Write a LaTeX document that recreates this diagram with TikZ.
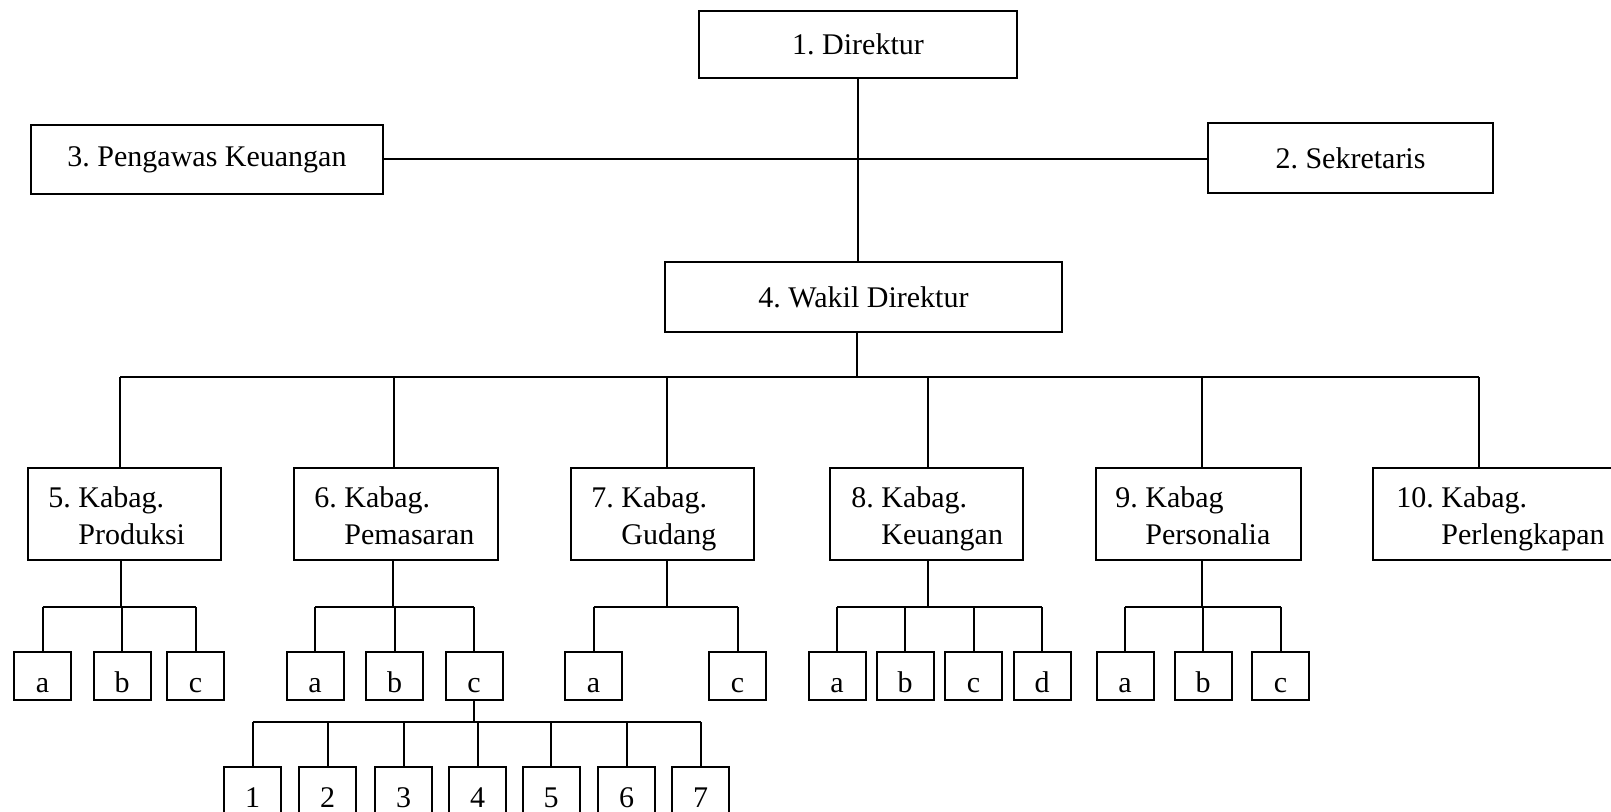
\documentclass[tikz,border=0pt]{standalone}
\usepackage{fontspec}
\setmainfont{Liberation Serif}
\usetikzlibrary{calc}
\frenchspacing
\begin{document}
\begin{tikzpicture}[x=0.5pt,y=-0.5pt,
  every node/.style={font=\fontsize{15}{18}\selectfont\frenchspacing},
  rect/.style n args={2}{draw, line width=1pt, inner sep=0pt, minimum width=#1*0.5pt, minimum height=#2*0.5pt},
  unit/.style={rect={57}{48}, text height=18pt, text depth=2pt},
  lbl/.style={anchor=base west, inner sep=0pt},
  conn/.style={line width=1pt}
]
\useasboundingbox (0,0) rectangle (1611,812);

% top level
\node[rect={318}{67}] (dir) at (858,44.5) {1. Direktur};
\node[rect={352}{69}] (peng) at (207,159.5) {3. Pengawas Keuangan};
\node[rect={285}{70}] (sek) at (1350.5,158) {2. Sekretaris};
\node[rect={397}{70}] (wak) at (863.5,297) {4. Wakil Direktur};

\draw[conn] (dir.south) -- (dir.south |- wak.north);
\draw[conn] (peng.east) -- (peng.east -| sek.west);

% departments
\node[rect={193}{92}] (d5) at (124.5,514) {};
\node[rect={204}{92}] (d6) at (396,514) {};
\node[rect={183}{92}] (d7) at (662.5,514) {};
\node[rect={193}{92}] (d8) at (926.5,514) {};
\node[rect={205}{92}] (d9) at (1198.5,514) {};
\node[rect={247}{92}] (d10) at (1496.5,514) {};

\node[lbl] (d5a) at ($(d5.north west)+(21,40)$) {5. Kabag.};
\node[lbl] (d5b) at ($(d5.north west)+(21,77)$) {\phantom{5. }Produksi};
\node[lbl] (d6a) at ($(d6.north west)+(21,40)$) {6. Kabag.};
\node[lbl] (d6b) at ($(d6.north west)+(21,77)$) {\phantom{6. }Pemasaran};
\node[lbl] (d7a) at ($(d7.north west)+(21,40)$) {7. Kabag.};
\node[lbl] (d7b) at ($(d7.north west)+(21,77)$) {\phantom{7. }Gudang};
\node[lbl] (d8a) at ($(d8.north west)+(22,40)$) {8. Kabag.};
\node[lbl] (d8b) at ($(d8.north west)+(22,77)$) {\phantom{8. }Keuangan};
\node[lbl] (d9a) at ($(d9.north west)+(20,40)$) {9. Kabag};
\node[lbl] (d9b) at ($(d9.north west)+(20,77)$) {\phantom{9. }Personalia};
\node[lbl] (d10a) at ($(d10.north west)+(24,40)$) {10. Kabag.};
\node[lbl] (d10b) at ($(d10.north west)+(24,77)$) {\phantom{10. }Perlengkapan};

% department bus
\coordinate (bus) at (857,377);
\coordinate (b5) at (120,377);
\coordinate (b6) at (394,377);
\coordinate (b7) at (667,377);
\coordinate (b8) at (928,377);
\coordinate (b9) at (1202,377);
\coordinate (b10) at (1479,377);
\draw[conn] (wak.south -| bus) -- (bus);
\draw[conn] (b5) -- (b10);
\foreach \i in {5,...,10} \draw[conn] (b\i) -- (b\i |- d\i.north);

% units
\node[unit] (c5a) at (42.5,676) {a};
\node[unit] (c5b) at (122,676) {b};
\node[unit] (c5c) at (195.5,676) {c};
\node[unit] (c6a) at (315,676) {a};
\node[unit] (c6b) at (394.5,676) {b};
\node[unit] (c6c) at (474,676) {c};
\node[unit] (c7a) at (593.5,676) {a};
\node[unit] (c7c) at (737.5,676) {c};
\node[unit] (c8a) at (837,676) {a};
\node[unit] (c8b) at (905,676) {b};
\node[unit] (c8c) at (973.5,676) {c};
\node[unit] (c8d) at (1042,676) {d};
\node[unit] (c9a) at (1125,676) {a};
\node[unit] (c9b) at (1203,676) {b};
\node[unit] (c9c) at (1280.5,676) {c};

\coordinate (s5) at (121,607);
\coordinate (s6) at (393,607);
\coordinate (s7) at (667,607);
\coordinate (s8) at (928,607);
\coordinate (s9) at (1202,607);

\draw[conn] (d5.south -| s5) -- (s5);
\draw[conn] (c5a.north |- s5) -- (c5c.north |- s5);
\foreach \c in {c5a,c5b,c5c} \draw[conn] (\c.north |- s5) -- (\c.north);

\draw[conn] (d6.south -| s6) -- (s6);
\draw[conn] (c6a.north |- s6) -- (c6c.north |- s6);
\foreach \c in {c6a,c6b,c6c} \draw[conn] (\c.north |- s6) -- (\c.north);

\draw[conn] (d7.south -| s7) -- (s7);
\draw[conn] (c7a.north |- s7) -- (c7c.north |- s7);
\foreach \c in {c7a,c7c} \draw[conn] (\c.north |- s7) -- (\c.north);

\draw[conn] (d8.south -| s8) -- (s8);
\draw[conn] (c8a.north |- s8) -- (c8d.north |- s8);
\foreach \c in {c8a,c8b,c8c,c8d} \draw[conn] (\c.north |- s8) -- (\c.north);

\draw[conn] (d9.south -| s9) -- (s9);
\draw[conn] (c9a.north |- s9) -- (c9c.north |- s9);
\foreach \c in {c9a,c9b,c9c} \draw[conn] (\c.north |- s9) -- (\c.north);

% sub units of 6c
\node[unit] (n1) at (252.5,791) {1};
\node[unit] (n2) at (327.5,791) {2};
\node[unit] (n3) at (403.5,791) {3};
\node[unit] (n4) at (477.5,791) {4};
\node[unit] (n5) at (551,791) {5};
\node[unit] (n6) at (626.5,791) {6};
\node[unit] (n7) at (700.5,791) {7};
\coordinate (s6c) at (474,722);
\draw[conn] (c6c.south) -- (s6c);
\draw[conn] (n1.north |- s6c) -- (n7.north |- s6c);
\foreach \c in {n1,n2,n3,n4,n5,n6,n7} \draw[conn] (\c.north |- s6c) -- (\c.north);
\end{tikzpicture}
\end{document}
